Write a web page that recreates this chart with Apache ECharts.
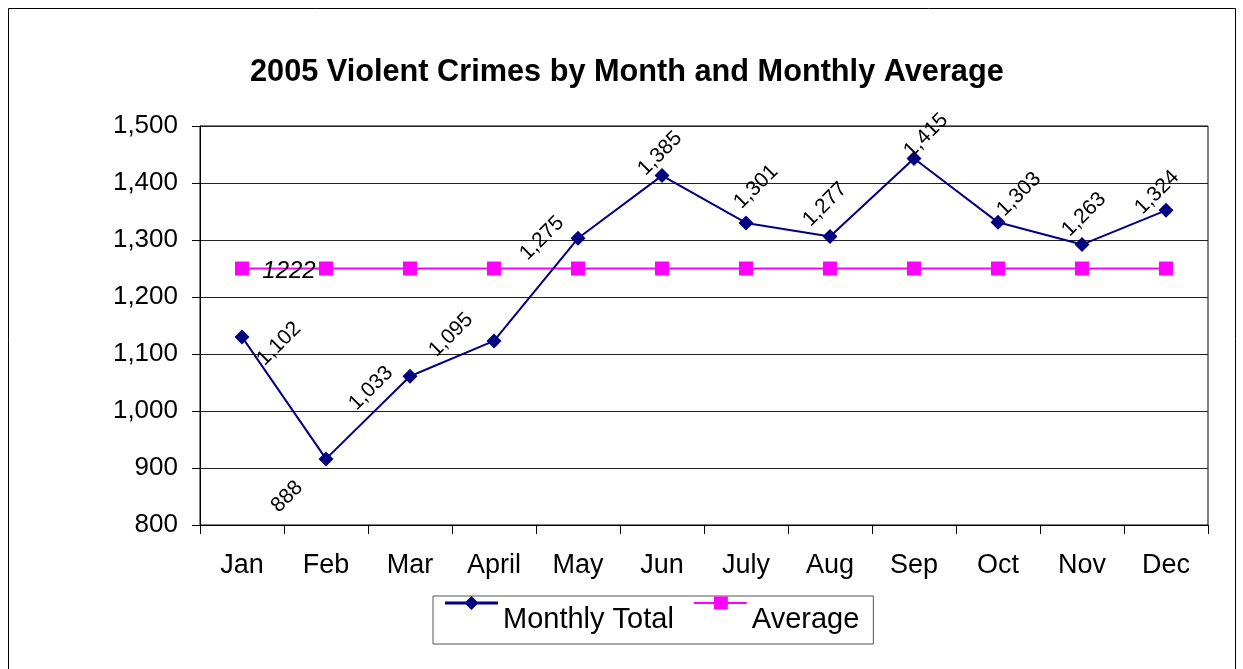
<!DOCTYPE html>
<html>
<head>
<meta charset="utf-8">
<title>2005 Violent Crimes by Month</title>
<script src="https://cdn.jsdelivr.net/npm/echarts@6/dist/echarts.min.js"></script>
<style>
html, body { margin: 0; padding: 0; background: #fff; }
#Line { width: 1243px; height: 669px; }
</style>
</head>
<body>
<div id="Line"></div>
<script>
// data
var months = ['Jan', 'Feb', 'Mar', 'April', 'May', 'Jun', 'July', 'Aug', 'Sep', 'Oct', 'Nov', 'Dec'];
// where the markers sit on the axis
var monthlyTotal = [1130, 916, 1061, 1123, 1303, 1413, 1330, 1306, 1443, 1331, 1292, 1352];
// the numbers written next to the markers
var monthlyLabels = ['1,102', '888', '1,033', '1,095', '1,275', '1,385', '1,301', '1,277', '1,415', '1,303', '1,263', '1,324'];
var average = [1250, 1250, 1250, 1250, 1250, 1250, 1250, 1250, 1250, 1250, 1250, 1250];
var averageLabel = '1222';

// label centre relative to marker (px)
var labelShift = [[37, 7], [-39, 38], [-39, 12], [-43, -6], [-36, 0], [-2, -22],
	[10, -36], [-5, -32], [12, -23], [21, -28], [2, -30], [-9, -18]];

// legend icons: line sits high, text sits lower (like the original)
var iconTotal = 'path://M0,0L0,0.01ZM53,48L53,47.99ZM0,5.5L53,5.5L53,8.5L0,8.5ZM26.5,0L33.5,7L26.5,14L19.5,7Z';
var iconAvg = 'path://M0,0L0,0.01ZM53,48L53,47.99ZM0,6L53,6L53,8L0,8ZM20,0.5L34,0.5L34,13.5L20,13.5Z';

var font = 'Liberation Sans, Arial, sans-serif';
var myChart = echarts.init(document.getElementById('Line'));

option = {
	backgroundColor: '#fff',
	textStyle: { fontFamily: font },
	animation: false,
	title: {
		text: '2005 Violent Crimes by Month and Monthly Average',
		left: 245,
		top: 52,
		textStyle: { fontFamily: font, fontSize: 30.7, fontWeight: 'bold', color: '#000' }
	},
	graphic: [{
		type: 'rect',
		shape: { x: 8.5, y: 8.5, width: 1227, height: 700 },
		style: { fill: 'none', stroke: '#000', lineWidth: 1 },
		silent: true
	}],
	legend: {
		left: 433,
		top: 596,
		padding: [0, 14, 0, 12],
		itemGap: 20,
		itemWidth: 53,
		itemHeight: 48,
		borderColor: '#555',
		borderWidth: 1,
		itemStyle: { borderWidth: 0 },
		textStyle: { fontFamily: font, fontSize: 29, color: '#000' },
		data: [
			{ name: 'Monthly Total', icon: iconTotal },
			{ name: 'Average', icon: iconAvg }
		]
	},
	grid: {
		left: 200,
		right: 35,
		top: 126,
		bottom: 144,
		show: true,
		borderColor: '#000',
		borderWidth: 1
	},
	xAxis: {
		type: 'category',
		data: months,
		boundaryGap: true,
		axisLine: { lineStyle: { color: '#000', width: 1 } },
		axisTick: { show: true, length: 9, lineStyle: { color: '#000' } },
		axisLabel: { color: '#000', fontSize: 27, margin: 27, fontFamily: font }
	},
	yAxis: {
		type: 'value',
		min: 800,
		max: 1500,
		interval: 100,
		axisLine: { show: true, lineStyle: { color: '#000', width: 1 } },
		axisTick: { show: true, length: 8, lineStyle: { color: '#000' } },
		axisLabel: {
			color: '#000', fontSize: 26, margin: 22, fontFamily: font,
			formatter: function (v) { return v.toLocaleString('en-US'); }
		},
		splitLine: { lineStyle: { color: '#222', width: 1 } }
	},
	series: [{
		name: 'Monthly Total',
		type: 'line',
		data: monthlyTotal,
		symbol: 'diamond',
		symbolSize: 15,
		itemStyle: { color: '#000080' },
		lineStyle: { color: '#000080', width: 2 },
		z: 3,
		label: {
			show: true,
			position: 'inside',
			fontSize: 21,
			color: '#000',
			fontFamily: font,
			formatter: function (p) { return monthlyLabels[p.dataIndex]; }
		},
		labelLayout: function (p) {
			var s = labelShift[p.dataIndex];
			return {
				x: p.rect.x + p.rect.width / 2 + s[0],
				y: p.rect.y + p.rect.height / 2 + s[1],
				rotate: 45,
				align: 'center',
				verticalAlign: 'middle'
			};
		}
	}, {
		name: 'Average',
		type: 'line',
		data: average.map(function (v, i) {
			return i === 0 ? { value: v, label: { show: true } } : v;
		}),
		symbol: 'rect',
		symbolSize: 14,
		itemStyle: { color: '#ff00ff' },
		lineStyle: { color: '#ff00ff', width: 2 },
		z: 2,
		label: {
			show: false,
			position: 'inside',
			offset: [47, 3],
			fontSize: 24,
			fontStyle: 'italic',
			color: '#000',
			fontFamily: font,
			formatter: function () { return averageLabel; }
		}
	}]
};

myChart.setOption(option);

window.addEventListener('resize', function () {
	myChart.resize();
});
</script>
</body>
</html>
